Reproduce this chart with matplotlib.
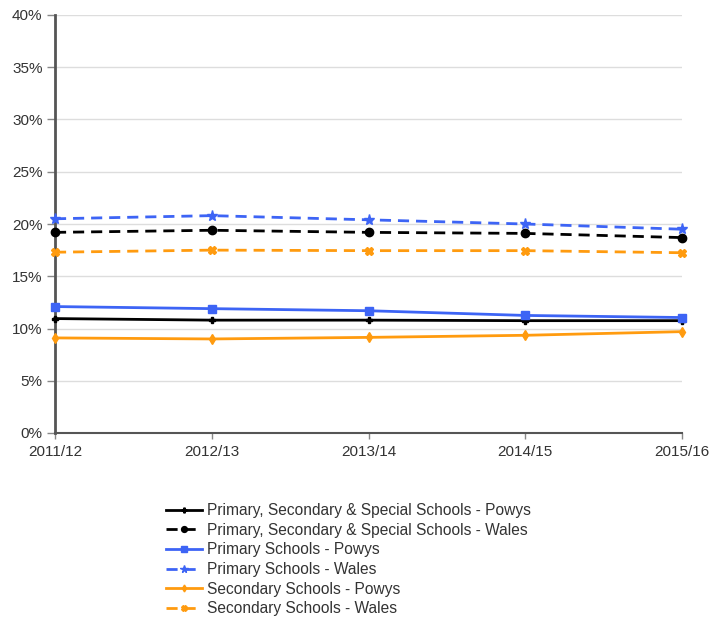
import matplotlib
matplotlib.use("Agg")
import matplotlib.pyplot as plt
from matplotlib.ticker import FuncFormatter

years = ["2011/12", "2012/13", "2013/14", "2014/15", "2015/16"]
all_powys = [10.95, 10.8, 10.8, 10.75, 10.75]
all_wales = [19.2, 19.4, 19.2, 19.1, 18.7]
primary_powys = [12.1, 11.9, 11.7, 11.25, 11.05]
primary_wales = [20.5, 20.8, 20.4, 20.0, 19.5]
secondary_powys = [9.1, 9.0, 9.15, 9.35, 9.7]
secondary_wales = [17.3, 17.5, 17.45, 17.45, 17.25]

labels = [
    "Primary, Secondary & Special Schools - Powys",
    "Primary, Secondary & Special Schools - Wales",
    "Primary Schools - Powys",
    "Primary Schools - Wales",
    "Secondary Schools - Powys",
    "Secondary Schools - Wales",
]

plt.rcParams['font.family'] = ['Liberation Sans', 'DejaVu Sans']

fig = plt.figure(figsize=(7.1, 6.19), dpi=100)
ax = fig.add_axes([55/710, 1-433/619, (682-55)/710, (433-15)/619])

x = list(range(len(years)))
black = "#000000"
blue = "#3d64f5"
orange = "#ff9b0f"

series = [
    (all_powys, black, "-", "P", 5),
    (all_wales, black, "--", "o", 6),
    (primary_powys, blue, "-", "s", 6),
    (primary_wales, blue, "--", "*", 8),
    (secondary_powys, orange, "-", "d", 5),
    (secondary_wales, orange, "--", "X", 6),
]
for (vals, c, ls, m, ms), lab in zip(series, labels):
    ax.plot(x, vals, color=c, linestyle=ls, marker=m, markersize=ms, linewidth=2,
            label=lab, clip_on=False, zorder=3, dashes=(4, 2.5) if ls == "--" else (None, None))

ax.set_xlim(0, 4)
ax.set_ylim(0, 40)
ax.set_yticks(range(0, 41, 5))
ax.yaxis.set_major_formatter(FuncFormatter(lambda v, p: f"{int(v)}%"))
ax.set_xticks(x)
ax.set_xticklabels(years)
ax.grid(axis="y", color="#dddddd", linewidth=1)
ax.set_axisbelow(True)
for s in ["top", "right"]:
    ax.spines[s].set_visible(False)
ax.spines["left"].set_color("#555555")
ax.spines["left"].set_linewidth(2)
ax.spines["bottom"].set_color("#555555")
ax.spines["bottom"].set_linewidth(1.5)
ax.tick_params(axis="both", labelsize=11, colors="#888888", width=1, labelcolor="#333333")
ax.tick_params(axis="y", length=6, pad=3)
ax.tick_params(axis="x", length=4, pad=5)

handles, labs = ax.get_legend_handles_labels()
fig.legend(handles, labs, loc="upper left", bbox_to_anchor=(152/710, 1-489/619),
           frameon=False, fontsize=11.2, handlelength=2.3, handletextpad=0.35,
           labelspacing=0.3, markerscale=0.7, labelcolor="#333333")

fig.savefig("out.png", dpi=100)
